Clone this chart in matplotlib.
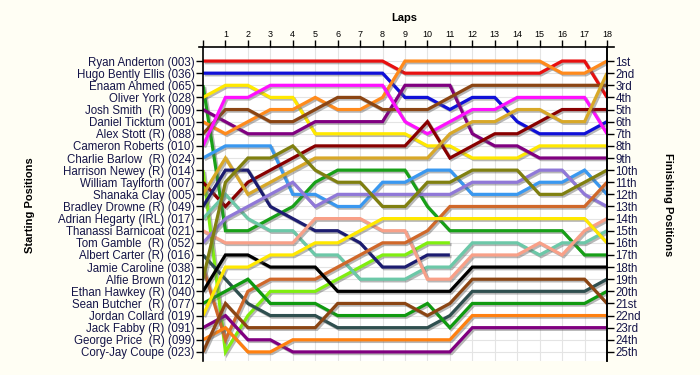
import matplotlib.pyplot as plt
import matplotlib.patheffects as pe
import numpy as np

plt.rcParams.update({"font.family": ["Liberation Sans", "DejaVu Sans"]})

nan = np.nan
laps = np.arange(19)

drivers = [
    "Ryan Anderton (003)", "Hugo Bently Ellis (036)", "Enaam Ahmed (065)",
    "Oliver York (028)", "Josh Smith  (R) (009)", "Daniel Ticktum (001)",
    "Alex Stott (R) (088)", "Cameron Roberts (010)", "Charlie Barlow  (R) (024)",
    "Harrison Newey (R) (014)", "William Taylforth (007)", "Shanaka Clay (005)",
    "Bradley Drowne (R) (049)", "Adrian Hegarty (IRL) (017)",
    "Thanassi Barnicoat (021)", "Tom Gamble  (R) (052)", "Albert Carter (R) (016)",
    "Jamie Caroline (038)", "Alfie Brown (012)", "Ethan Hawkey (R) (040)",
    "Sean Butcher  (R) (077)", "Jordan Collard (019)", "Jack Fabby (R) (091)",
    "George Price  (R) (099)", "Cory-Jay Coupe (023)",
]

line_colors = [
    "#e81010", "#1010d8", "#18a018", "#ffe800", "#800080", "#ff8a1c",
    "#8b4513", "#ff10ff", "#3a98f0", "#80ee10", "#880000", "#d8a828",
    "#1c1c70", "#6cc8a8", "#f8a088", "#9078d8", "#2f4f4f", "#d0682a",
    "#808010", "#000000", "#109a10", "#ffe800", "#800080", "#ff8010",
    "#8b4513",
]

# position of each driver at laps 0..18 (nan = retired)
anderton = [1, 1, 1, 1, 1, 1, 1, 1, 1, 2, 2, 2, 2, 2, 2, 2, 1, 1, 4]
bently_ellis = [2, 2, 2, 2, 2, 2, 2, 2, 2, 4, 4, 5, 4, 4, 6, 7, 7, 7, 6]
ahmed = [3, 15, 15, 14, 13, 11, 10, 10, 10, 10, 13, 15, 15, 15, 15, 15, 15, 17, 17]
york = [4, 3, 3, 4, 4, 7, 7, 7, 7, 7, 8, 8, 9, 9, 9, 8, 8, 8, 8]
smith = [5, 6, 7, 7, 7, 6, 6, 6, 6, 3, 3, 3, 7, 8, 8, 9, 9, 9, 9]
ticktum = [6, 7, 6, 5, 5, 4, 5, 5, 4, 1, 1, 1, 1, 1, 1, 1, 2, 2, 1]
stott = [7, 5, 5, 6, 6, 5, 4, 4, 5, 5, 5, 4, 3, 3, 3, 3, 3, 3, 3]
roberts = [8, 4, 4, 3, 3, 3, 3, 3, 3, 6, 7, 6, 5, 5, 4, 4, 4, 4, 7]
barlow = [9, 8, 8, 8, 12, 12, 13, 13, 11, 11, 10, 10, 12, 12, 12, 11, 11, 10, 12]
newey = [10, 25, 22, 20, 20, 20, 19, 18, 17, 17, 16, 16] + [nan] * 7
taylforth = [11, 13, 11, 10, 9, 8, 8, 8, 8, 8, 6, 9, 8, 7, 7, 6, 5, 5, 5]
clay = [12, 9, 12, 11, 10, 9, 9, 9, 9, 9, 9, 7, 6, 6, 5, 5, 6, 6, 2]
drowne = [13, 10, 10, 13, 14, 15, 15, 16, 18, 18, 17, 17] + [nan] * 7
hegarty = [14, 12, 14, 15, 15, 17, 17, 19, 19, 19, 18, 18, 16, 16, 16, 17, 16, 16, 15]
barnicoat = [15, 16, 16, 16, 16, 14, 14, 14, 15, 15, 19, 19, 17, 17, 17, 16, 17, 15, 14]
gamble = [16, 14, 13, 12, 11, 13, 12, 12, 12, 12, 12, 12, 11, 11, 11, 10, 10, 12, 13]
carter = [17, 19, 21, 22, 22, 22, 23, 23, 23, 23, 23, 22, 20, 20, 20, 20, 20, 20, 19]
caroline = [18, 24, 20, 19, 19, 19, 18, 17, 16, 16, 15, 13, 13, 13, 13, 13, 13, 13, 11]
brown = [19, 11, 9, 9, 8, 10, 11, 11, 13, 13, 11, 11, 10, 10, 10, 12, 12, 11, 10]
hawkey = [20, 17, 17, 18, 18, 18, 20, 20, 20, 20, 20, 20, 18, 18, 18, 18, 18, 18, 18]
butcher = [21, 20, 19, 21, 21, 21, 22, 22, 22, 22, 21, 23, 21, 21, 21, 21, 21, 21, 20]
collard = [22, 18, 18, 17, 17, 16, 16, 15, 14, 14, 14, 14, 14, 14, 14, 14, 14, 14, 16]
fabby = [23, 22, 24, 24, 25, 25, 25, 25, 25, 25, 25, 25, 23, 23, 23, 23, 23, 23, 23]
price = [24, 23, 25, 25, 24, 24, 24, 24, 24, 24, 24, 24, 22, 22, 22, 22, 22, 22, 22]
coupe = [25, 21, 23, 23, 23, 23, 21, 21, 21, 21, 22, 21, 19, 19, 19, 19, 19, 19, 21]

positions = [
    anderton, bently_ellis, ahmed, york, smith, ticktum, stott, roberts,
    barlow, newey, taylforth, clay, drowne, hegarty, barnicoat, gamble,
    carter, caroline, brown, hawkey, butcher, collard, fabby, price, coupe,
]

finish_labels = [
    "1st", "2nd", "3rd", "4th", "5th", "6th", "7th", "8th", "9th", "10th",
    "11th", "12th", "13th", "14th", "15th", "16th", "17th", "18th", "19th",
    "20th", "21st", "22nd", "23rd", "24th", "25th",
]

bg = "#fffef4"
label_color = "#141448"

fig = plt.figure(figsize=(7, 3.75), dpi=100, facecolor=bg)
ax = fig.add_axes([203 / 700, 1 - 361 / 375, 404 / 700, 314 / 375])
ax.set_facecolor("white")

shadow = [pe.SimpleLineShadow(offset=(1.2, -1.2), shadow_color="#606060", alpha=0.45),
          pe.Normal()]
for pos, col in zip(positions, line_colors):
    ax.plot(laps, pos, color=col, lw=2.3, path_effects=shadow,
            solid_joinstyle="miter", solid_capstyle="butt")

ax.set_xlim(0, 18)
ax.set_ylim(25.75, -0.16)

ax.xaxis.tick_top()
ax.set_xticks(laps)
ax.set_xticklabels([""] + [str(i) for i in range(1, 19)], fontsize=6.5)
ax.tick_params(axis="x", length=5, width=1, pad=1)
ax.set_yticks(range(1, 26))
ax.set_yticklabels(drivers, fontsize=8.3, color=label_color)
ax.tick_params(axis="y", length=5, width=1, pad=1)
ax.grid(True, color="#e4e4e4", lw=0.8)
ax.set_axisbelow(True)
ax.spines["bottom"].set_visible(False)
ax.spines["top"].set_visible(False)
for s in ["left", "right"]:
    ax.spines[s].set_linewidth(1.2)
# top axis line runs a little past both side axes
ax.plot([-0.01, 1.017], [1, 1], transform=ax.transAxes, color="black",
        lw=1.2, clip_on=False, zorder=5)

ax2 = ax.twinx()
ax2.set_ylim(25.75, -0.16)
ax2.set_yticks(range(1, 26))
ax2.set_yticklabels(finish_labels, fontsize=8.3, color=label_color)
ax2.tick_params(axis="y", length=5, width=1, pad=1)
ax2.spines["bottom"].set_visible(False)
ax2.spines["top"].set_visible(False)
ax2.spines["left"].set_visible(False)
ax2.spines["right"].set_linewidth(1.2)

fig.text(404 / 700, 1 - 18 / 375, "Laps", ha="center", va="center",
         fontsize=8, fontweight="bold")
fig.text(30 / 700, 1 - 205 / 375, "Starting Positions", ha="center", va="center",
         rotation=90, fontsize=8, fontweight="bold")
fig.text(668 / 700, 1 - 205 / 375, "Finishing Positions", ha="center", va="center",
         rotation=270, fontsize=8, fontweight="bold")

fig.savefig("out.png", dpi=100, facecolor=bg)
